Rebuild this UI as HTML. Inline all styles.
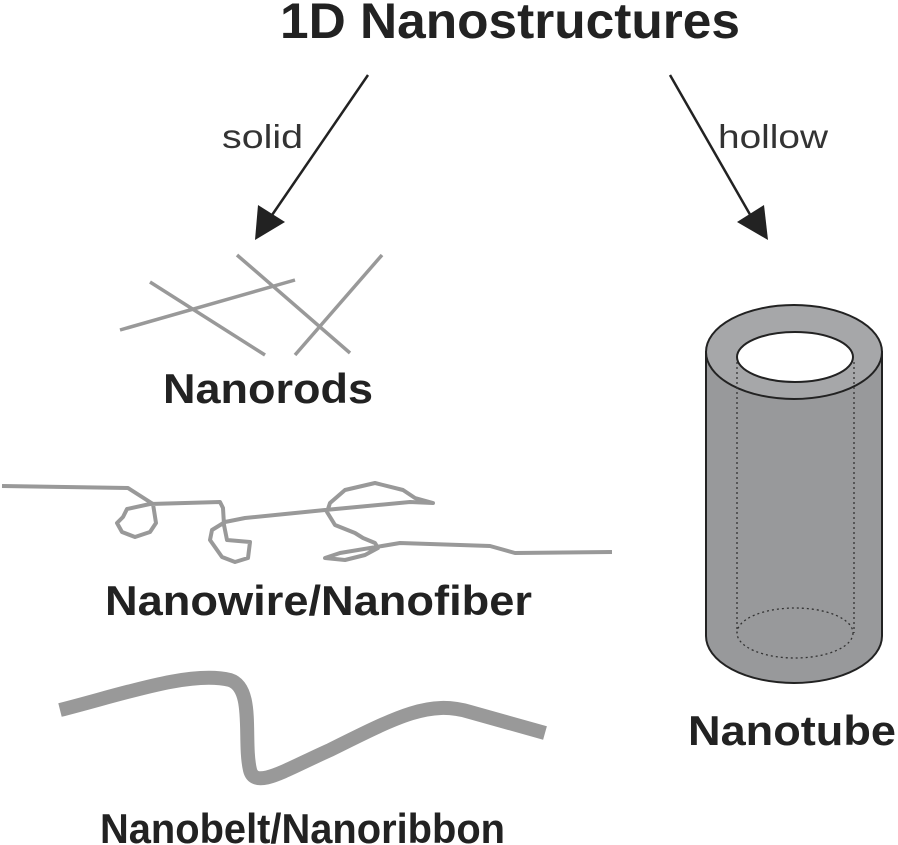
<!DOCTYPE html>
<html><head><meta charset="utf-8"><style>
body{margin:0;background:#fff;}
svg{display:block;}
text{font-family:"Liberation Sans",sans-serif;}
</style></head><body>
<svg width="898" height="845" viewBox="0 0 898 845" xmlns="http://www.w3.org/2000/svg">
<text x="280" y="38" font-size="50" font-weight="bold" fill="#222" textLength="460" lengthAdjust="spacingAndGlyphs">1D Nanostructures</text>
<line x1="368" y1="75" x2="270" y2="218" stroke="#222" stroke-width="2.5"/>
<polygon points="255,240 258,205 285,222" fill="#222"/>
<line x1="670" y1="75" x2="752" y2="218" stroke="#222" stroke-width="2.5"/>
<polygon points="768,240 737,222 764,205" fill="#222"/>
<text x="222" y="148" font-size="33" fill="#333" textLength="81" lengthAdjust="spacingAndGlyphs">solid</text>
<text x="718" y="148" font-size="33" fill="#333" textLength="110" lengthAdjust="spacingAndGlyphs">hollow</text>
<g stroke="#999" stroke-width="3.5">
<line x1="150" y1="282" x2="265" y2="355"/>
<line x1="120" y1="330" x2="295" y2="280"/>
<line x1="237" y1="255" x2="350" y2="353"/>
<line x1="382" y1="255" x2="295" y2="355"/>
</g>
<text x="163" y="403" font-size="42" font-weight="bold" fill="#222" textLength="210" lengthAdjust="spacingAndGlyphs">Nanorods</text>
<polyline fill="none" stroke="#999" stroke-width="4" stroke-linejoin="round" points="2,486 128,488 153,504 156,523 150,532 135,537 122,532 117,523 123,517 127,509 150,504 220,502 223,508 224,525 227,540 250,542 248,558 235,562 222,557 210,540 212,530 225,522 245,518 325,510 410,502 433,503 415,498 403,490 375,483 345,490 330,503 327,512 335,525 355,533 363,538 375,543 378,548 365,555 345,560 325,558 340,553 400,543 490,546 515,553 612,552"/>
<text x="105" y="615" font-size="42" font-weight="bold" fill="#222" textLength="427" lengthAdjust="spacingAndGlyphs">Nanowire/Nanofiber</text>
<path d="M60,710 C120,695 190,670 230,680 C255,688 243,740 250,770 C255,790 285,770 330,750 C400,715 430,700 470,712 L545,733" fill="none" stroke="#999" stroke-width="14"/>
<text x="100" y="843" font-size="42" font-weight="bold" fill="#222" textLength="405" lengthAdjust="spacingAndGlyphs">Nanobelt/Nanoribbon</text>
<path d="M706,352 L706,636 A88,47 0 0 0 882,636 L882,352 Z" fill="#98999b" stroke="#222" stroke-width="2"/>
<ellipse cx="794" cy="352" rx="88" ry="47" fill="#a6a7a9" stroke="#222" stroke-width="2"/>
<ellipse cx="795" cy="357" rx="58" ry="25" fill="#fff" stroke="#222" stroke-width="2"/>
<g fill="none" stroke="#333" stroke-width="1.3" stroke-dasharray="2,3">
<line x1="737" y1="362" x2="737" y2="633"/>
<line x1="854" y1="362" x2="854" y2="633"/>
<ellipse cx="795" cy="633" rx="58" ry="25"/>
</g>
<text x="688" y="745" font-size="42" font-weight="bold" fill="#222" textLength="208" lengthAdjust="spacingAndGlyphs">Nanotube</text>
</svg>
</body></html>
